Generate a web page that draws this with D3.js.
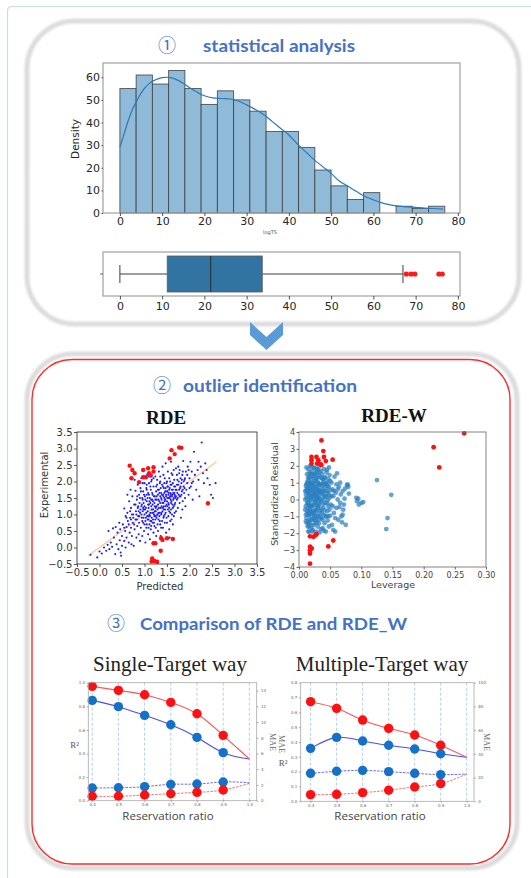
<!DOCTYPE html>
<html>
<head>
<meta charset="utf-8">
<script src="https://cdn.jsdelivr.net/npm/d3@7"></script>
<style>
  html, body { margin: 0; padding: 0; background: #fff; }
  svg { display: block; }
</style>
</head>
<body>
<svg id="fig" width="531" height="878"></svg>
<script>
// ---------- ① statistical analysis : histogram + KDE of logTS ----------
const histStart = 0;
const histBinWidth = 3.845;
const histCounts = [55, 61, 57, 63, 55, 48, 54, 50, 45, 36, 36, 29, 19, 12, 6, 9, 0, 3, 2, 3];
const kdeCurve = [
  [0, 29], [1, 35], [2, 41], [3, 46], [4, 49.5], [5, 53], [6, 55.5], [7, 57.3], [8, 58.5], [9, 59.3],
  [10, 59.8], [11, 60], [12, 59.8], [13, 59.3], [14, 58.4], [15, 57.3], [16, 56], [17, 54.8], [18, 53.7],
  [19, 52.6], [20, 51.8], [22, 50.9], [24, 50.6], [26, 50.4], [28, 49.5], [30, 47.8], [32, 45.8],
  [34, 43.5], [36, 40.5], [38, 37.5], [40, 34.5], [42, 30.5], [44, 27], [46, 23.5], [48, 20.5],
  [50, 17.5], [52, 14], [54, 11.8], [56, 9.5], [58, 7.3], [60, 5.8], [62, 4.5], [64, 3.6], [66, 3],
  [68, 2.7], [70, 2.5], [72, 2.2], [74, 2], [76.5, 1.7]
];
const logTSTicks = [0, 10, 20, 30, 40, 50, 60, 70, 80];
const densityTicks = [0, 10, 20, 30, 40, 50, 60];

// box plot of logTS
const boxQuartiles = [11.2, 21.5, 33.7];
const boxWhiskers = [0, 67];
const boxOutliers = [67.8, 68.9, 69.8, 75.5, 76.3];

// ---------- ② outlier identification ----------
const rdeTicks = [-0.5, 0, 0.5, 1, 1.5, 2, 2.5, 3, 3.5];
const rdeFitLine = [-0.25, 2.6];
const rdeInliers = [
  [-0.2,-0.22],[-0.05,-0.3],[0,-0.12],[0.05,-0.18],[0.1,0],[0.15,-0.1],[0.18,0.08],[0.22,-0.05],[0.25,0.15],
  [0.28,0.02],[0.3,0.58],[0.32,0.3],[0.35,-0.2],[0.38,0.1],[0.4,0.45],[0.42,-0.05],[0.45,0.22],[0.46,0.55],
  [0.48,-0.25],[0.5,0.35],[0.5,0.05],[0.47,-0.15],[0.44,0.75],[0.36,0.62],[0.2,0.5],
  [0.52,0.7],[0.55,1.18],[0.55,0.2],[0.57,0.5],[0.58,0.95],[0.6,0.62],[0.6,0.3],[0.62,1.05],[0.63,0.8],
  [0.65,0.15],[0.66,1.4],[0.67,0.45],[0.68,0.9],[0.7,1.2],[0.7,0.6],[0.72,0.35],[0.73,1.55],[0.74,0.75],
  [0.75,1],[0.76,0.05],[0.77,1.3],[0.78,0.55],[0.8,1.72],[0.8,0.85],[0.81,1.1],[0.82,0.3],[0.83,1.45],
  [0.84,0.65],[0.85,1.9],[0.85,1.2],[0.86,0.95],[0.87,0.4],[0.88,1.6],[0.88,0.75],[0.89,1.35],[0.9,1.05],
  [0.9,0.2],[0.62,1.6],[0.69,1.75],[0.78,2.05],[0.58,0],[0.71,0.1],
  [0.91,1.8],[0.92,0.6],[0.93,1.25],[0.93,2.1],[0.94,0.9],[0.95,1.5],[0.95,0.35],[0.96,1.1],[0.97,1.7],
  [0.97,0.75],[0.98,1.35],[0.99,0.5],[1,1.95],[1,1],[1.01,1.55],[1.02,0.8],[1.02,0.15],[1.03,1.2],
  [1.04,1.8],[1.04,0.6],[1.05,1.4],[1.06,0.95],[1.06,2.2],[1.07,1.1],[1.08,0.4],[1.08,1.65],[1.09,0.85],
  [1.1,1.3],[1.1,1.95],[1.11,0.7],[1.12,1.5],[1.12,0.25],[1.13,1.05],[1.14,1.75],[1.14,0.55],[1.15,1.25],
  [1.16,0.9],[1.16,2.05],[1.17,1.45],[1.18,0.75],[1.18,1.6],[1.19,1.15],[1.2,0.45],[1.2,1.85],[1.21,1],
  [1.22,1.35],[1.22,0.65],[1.23,1.55],[1.24,2.15],[1.24,0.85],[1.25,1.2],[1.26,1.7],[1.26,0.35],[1.27,1.45],
  [1.28,1],[1.28,1.9],[1.29,0.7],[1.3,1.3],[1.3,1.6],[1.3,0.5],[0.96,1.95],[1.05,1.6],[1.15,1.45],[1.25,1.1],
  [0.98,1.15],[1.08,1.3],[1.18,1.3],[1.27,1.25],[1.12,0.95],[1.22,0.95],
  [1.31,1.05],[1.32,1.75],[1.32,2.3],[1.33,1.4],[1.34,0.8],[1.35,1.55],[1.35,2],[1.36,1.2],[1.37,1.65],
  [1.37,0.6],[1.38,1.45],[1.39,1.9],[1.4,1.1],[1.4,2.45],[1.41,1.6],[1.42,0.9],[1.42,1.35],[1.43,1.8],
  [1.44,1.5],[1.45,2.1],[1.45,1],[1.46,1.7],[1.47,1.25],[1.48,0.45],[1.48,1.55],[1.49,1.95],[1.5,1.4],
  [1.5,0.75],[1.51,1.85],[1.52,1.15],[1.52,2.3],[1.53,1.6],[1.54,1.3],[1.55,1.75],[1.55,0.55],[1.56,1.5],
  [1.57,2],[1.57,1.05],[1.58,1.65],[1.59,1.35],[1.6,1.9],[1.6,0.85],[1.61,1.55],[1.62,2.2],[1.63,1.2],
  [1.63,1.75],[1.64,1.45],[1.65,0.95],[1.66,1.65],[1.66,2.05],[1.67,1.3],[1.68,1.85],[1.69,1.5],[1.7,1.1],
  [1.7,2.4],[1.34,1.95],[1.38,1.25],[1.44,1.65],[1.46,1.45],[1.53,1.5],[1.58,1.45],[1.62,1.6],[1.68,1.55],
  [1.36,0.35],[1.41,0.6],[1.56,0.3],[1.47,2.55],[1.59,2.6],[1.43,1.15],[1.51,1.7],
  [1.71,1.75],[1.72,1.45],[1.73,2.05],[1.74,1.2],[1.75,1.9],[1.76,1.6],[1.77,2.25],[1.78,1.35],[1.79,1.8],
  [1.8,2.1],[1.8,1.55],[1.81,0.9],[1.82,1.95],[1.83,1.7],[1.84,2.2],[1.85,1.4],[1.86,2.62],[1.87,1.85],
  [1.88,1.65],[1.89,2.05],[1.9,1.5],[1.92,2.3],[1.93,1.75],[1.95,1.95],[1.96,2.45],[1.98,1.6],[2,2.1],
  [2.02,2.6],[2.03,1.85],[2.05,2.3],[2.07,1.45],[2.08,2],[2.1,2.9],[1.75,2.45],[1.84,1.15],[1.91,1.25],
  [2.12,2.2],[2.15,1.75],[2.18,2.35],[2.2,2.05],[2.22,1.55],[2.25,2.45],[2.27,3.18],[2.3,2.25],[2.32,1.95],
  [2.35,2.55],[2.4,2.1],[2.45,1.9],[2.48,1.6],[2.52,1.5],[2.58,1.95],[2.38,2.35],[2.2,2.6],
  [1,1.25],[1.02,1.45],[1.04,1.05],[1.05,1.75],[1.07,1.5],[1.08,0.95],[1.09,1.2],[1.1,1.6],[1.11,1.4],
  [1.13,1.85],[1.13,1.35],[1.15,0.8],[1.16,1.15],[1.17,1.65],[1.19,1.4],[1.2,1.05],[1.21,1.55],[1.23,1.25],
  [1.24,1.45],[1.25,0.95],[1.26,1.85],[1.27,1.55],[1.29,1.15],[1.3,1.75],[1.31,1.45],[1.32,1.2],[1.33,1.65],
  [1.34,1.05],[1.35,1.35],[1.36,1.8],[1.37,1.5],[1.38,1.05],[1.39,1.6],[1.4,1.35],[1.41,1.85],[1.42,1.55],
  [1.43,1.25],[1.44,1.95],[1.45,1.4],[1.46,1.15],[1.47,1.8],[1.48,1.6],[1.49,1.3],[1.5,1.7],[1.51,1.5],
  [1.52,1.85],[1.53,1.35],[1.54,1.65],[1.55,1.2],[1.56,1.8],[1.57,1.55],[1.58,1.9],[1.59,1.6],[1.6,1.4],
  [1.61,1.75],[1.62,1.3],[1.63,1.95],[1.64,1.65],[1.65,1.5],[1.66,1.85],[1.67,1.6],[1.68,1.35],[1.69,1.75],
  [1.7,1.55],[1.72,1.9],[1.73,1.65],[1.74,1.5],[1.76,2],[1.77,1.75],[1.78,1.55],[1.8,1.85],[1.82,1.6],
  [1.83,2.05],[1.85,1.75],[1.87,2],[1.89,1.8],
  [0.8,1.3],[0.82,1],[0.84,1.55],[0.86,1.25],[0.88,0.95],[0.9,1.5],[0.91,1.15],[0.92,1.7],[0.94,1.3],
  [0.95,0.8],[0.96,1.45],[0.97,1.2],[0.98,0.9],[0.99,1.6],[1,0.7],[1.01,1.15],[1.03,0.9],[1.05,0.7],
  [1.07,0.85],[1.09,0.6],[1.11,1],[1.13,0.8],[1.15,0.65],[1.17,1.05],[1.19,0.85],[1.21,0.75],[1.23,1.1],
  [1.25,0.6],[1.27,0.9],[1.29,1],[1.31,0.85],[1.33,0.95],[1.35,0.7],[1.37,1],[1.39,0.8],[1.41,1.2],
  [1.43,0.95],[1.45,0.75],[1.47,1.05],[1.49,0.9],[1.51,1.25],[1.53,0.95],[1.55,1.1],[1.57,0.8],[1.59,1.15],
  [1.61,1],[1.63,0.7],[1.65,1.25],[1.67,1.05],[0.75,0.9],[0.7,0.85],[0.65,0.7],[0.6,0.9],[0.55,0.6],
  [0.68,1.1],[0.72,1],[0.77,0.7],[0.83,0.85],[0.87,1.1],[0.93,1],
  [1.15,2],[1.2,2.1],[1.28,2.05],[1.35,2.15],[1.42,2.2],[1.5,2],[1.55,2.1],[1.6,2.25],[1.65,2.35],
  [1.72,2.2],[1.78,2.35],[1.85,2.3],[1.9,2.1],[1.95,2.2],[2,1.8],[2.05,1.95],[1.98,2.35],[1.1,2.15],[1.05,1.9]
];
const rdeOutliers = [
  [0.67,2.48],[0.73,2.35],[0.78,2.25],[0.71,2.1],[0.88,1.98],[0.97,2.35],[0.97,2.13],[1.03,2.13],
  [1.08,2.4],[1.1,2.25],[1.2,2.43],[1.2,2.3],[1.14,2.18],[1.56,2.7],[1.6,2.95],[1.67,2.83],[1.77,3.03],
  [1.82,3.02],[2.41,1.34],[1.2,0.13],[1.24,0.13],[1.37,0.28],[1.4,0.23],[1.5,0.28],[1.63,0.26],
  [1.36,-0.1],[1.17,-0.33],[1.22,-0.41],[1.28,-0.43],[1.16,-0.42]
];

const leverageTicks = [0, 0.05, 0.1, 0.15, 0.2, 0.25, 0.3];
const residualTicks = [-4, -3, -2, -1, 0, 1, 2, 3, 4];
const rdewInliers = [
  [0.011,0.3],[0.011,-0.4],[0.012,0.9],[0.012,-1.1],[0.012,0.1],[0.013,1.5],[0.013,-0.7],[0.013,0.5],
  [0.014,-1.6],[0.014,1.1],[0.014,-0.2],[0.015,0.7],[0.015,-1.3],[0.015,1.8],[0.015,-0.5],[0.016,0.2],
  [0.016,1.3],[0.016,-0.9],[0.016,-1.9],[0.017,0.6],[0.017,-0.1],[0.017,1.6],[0.017,-1.4],[0.018,0.95],
  [0.018,-0.6],[0.018,0.35],[0.018,2],[0.019,-1],[0.019,1.2],[0.019,-0.3],[0.019,0],[0.02,-1.7],
  [0.02,0.8],[0.02,1.5],[0.02,-0.8],[0.013,-1.4],[0.014,0.4],[0.016,0.9],[0.017,-0.7],[0.018,-1.2],
  [0.015,0.05],[0.012,1.9],[0.019,0.55],[0.011,-0.9],[0.016,-0.35],
  [0.021,0.2],[0.021,-1.2],[0.021,1.7],[0.022,-0.4],[0.022,0.9],[0.022,-1.8],[0.023,0.5],[0.023,1.3],
  [0.023,-0.8],[0.024,0],[0.024,1.9],[0.024,-1.5],[0.025,0.7],[0.025,-0.2],[0.025,1.1],[0.026,-1],
  [0.026,0.35],[0.026,1.55],[0.027,-0.6],[0.027,0.8],[0.027,-1.9],[0.028,1.25],[0.028,-0.1],[0.028,0.5],
  [0.029,-1.3],[0.029,1.8],[0.029,0.15],[0.03,-0.5],[0.03,1],[0.03,-1.6],[0.031,0.6],[0.031,1.45],
  [0.031,-0.9],[0.032,0.1],[0.032,-0.3],[0.032,1.95],[0.033,0.85],[0.033,-1.15],[0.033,-1.95],[0.034,0.4],
  [0.034,1.3],[0.034,-0.7],[0.035,-0.15],[0.035,1.7],[0.023,0.25],[0.025,-0.65],[0.027,0.3],[0.029,-0.35],
  [0.031,0.2],[0.026,-1.4],[0.028,1.6],[0.033,0.55],[0.03,0.4],[0.022,0.6],[0.024,-0.9],
  [0.036,0.9],[0.036,-1.1],[0.037,0.3],[0.037,1.5],[0.038,-0.5],[0.038,-1.7],[0.039,1.1],[0.039,0],
  [0.04,-0.9],[0.04,1.8],[0.041,0.5],[0.041,-1.4],[0.042,1.3],[0.042,-0.2],[0.043,0.7],[0.043,-1.9],
  [0.044,0.15],[0.044,1.6],[0.045,-0.7],[0.045,0.95],[0.046,-1.25],[0.046,0.4],[0.047,1.2],[0.047,-0.4],
  [0.048,-1.6],[0.048,0.75],[0.049,0.1],[0.049,1.45],[0.05,-0.95],[0.05,0.55],[0.038,0.6],[0.042,0.9],
  [0.044,-1],[0.046,-0.05],[0.048,1.9],[0.04,0.25],
  [0.051,-0.3],[0.052,1],[0.053,-1.5],[0.054,0.6],[0.055,0.2],[0.056,-0.8],[0.057,1.35],[0.058,-1.9],
  [0.059,0.4],[0.06,-0.5],[0.061,1.55],[0.062,0],[0.063,-1.2],[0.064,0.75],[0.066,-0.2],[0.067,0.3],
  [0.068,-1],[0.07,0.5],[0.071,-0.6],[0.073,0.05],[0.074,0.65],[0.075,-1.5],[0.077,0.85],[0.078,0.9],
  [0.079,0.75],[0.08,0.35],[0.055,-1.8],[0.06,0.9],[0.065,-0.45],[0.072,-0.3],[0.069,-1.35],
  [0.093,-0.1],[0.095,0.05],[0.096,-0.3],[0.1,-0.2],[0.103,-0.15],[0.125,1.15],[0.148,0.28],
  [0.142,-1.1],[0.14,-1.75],[0.092,0.1],
  [0.012,0.6],[0.013,-0.2],[0.013,1],[0.014,-0.9],[0.014,0.7],[0.015,-0.8],[0.015,1.3],[0.016,0.45],
  [0.016,-1.6],[0.017,1],[0.017,0.25],[0.018,-0.4],[0.018,1.5],[0.019,-1.5],[0.019,0.8],[0.02,0.1],
  [0.02,-0.4],[0.021,1],[0.021,-0.7],[0.022,0.2],[0.022,1.4],[0.023,-1.2],[0.023,0.9],[0.024,0.4],
  [0.024,-0.3],[0.025,1.5],[0.025,-1.1],[0.026,0.6],[0.026,-0.1],[0.027,1.1],[0.027,-1.2],[0.028,0.1],
  [0.028,-0.7],[0.029,0.75],[0.029,1.3],[0.03,-1],[0.03,0.05],[0.031,-0.4],[0.031,1],[0.032,0.5],
  [0.032,-1.4],[0.033,1.6],[0.033,-0.1],[0.034,0.9],[0.034,-1],[0.035,0.45],[0.035,-0.6],[0.036,1.3],
  [0.036,0],[0.037,-0.8],[0.037,0.8],[0.038,-1.2],[0.038,1.2],[0.039,0.5],[0.039,-0.3],[0.04,0.9],
  [0.041,-0.6],[0.041,1.3],[0.042,0.2],[0.043,-1],[0.043,1],[0.044,0.5],[0.045,-0.2],[0.046,0.8],
  [0.047,-1],[0.048,0.3],[0.049,-0.6],[0.05,1.1],[0.052,0.2],[0.054,-0.4],[0.056,0.5],[0.058,-1.1],
  [0.062,0.6],[0.066,1],[0.07,-0.9],[0.021,-1.9],[0.025,1.85],[0.03,1.75],[0.035,-1.75],[0.04,-1.85],
  [0.045,1.75],[0.015,-1.9],[0.02,1.95],[0.011,0.8],[0.011,-1.3],[0.01,0],[0.01,-0.6],[0.01,0.5]
];
const rdewOutliers = [
  [0.265,3.92],[0.216,3.1],[0.225,1.9],[0.036,3.5],[0.039,2.87],[0.04,2.52],[0.054,2.36],[0.043,2.28],
  [0.02,2.52],[0.02,2.33],[0.02,2.13],[0.028,2.52],[0.031,2.33],[0.029,2.13],[0.034,2.1],[0.036,2.05],
  [0.0177,-2.18],[0.023,-2.21],[0.026,-2.13],[0.028,-2.06],[0.0177,-2.8],[0.0177,-3],[0.0177,-3.2],
  [0.0204,-2.9],[0.0177,-3.8],[0.047,-2.78],[0.055,-2.43]
];

// ---------- ③ comparison of RDE and RDE_W ----------
const reservationRatios = [0.4, 0.5, 0.6, 0.7, 0.8, 0.9, 1.0];
const singleR2Red = [0.969, 0.935, 0.898, 0.833, 0.737, 0.554, 0.353];
const singleR2Blue = [0.850, 0.797, 0.723, 0.644, 0.537, 0.407, 0.353];
const singleMaeBlue = [1.61, 1.65, 1.78, 2.08, 2.12, 2.38, 2.29];
const singleMaeRed = [0.56, 0.56, 0.72, 0.89, 1.06, 1.36, 2.2];
const multiR2Red = [0.672, 0.627, 0.548, 0.492, 0.447, 0.378, 0.297];
const multiR2Blue = [0.357, 0.431, 0.407, 0.378, 0.353, 0.321, 0.297];
const multiMaeBlue = [23.6, 25.3, 26.1, 25.0, 23.6, 22.5, 23.0];
const multiMaeRed = [5.6, 5.9, 7.3, 9.3, 12.1, 14.9, 23.0];
const singleR2Ticks = [0, 0.2, 0.4, 0.6, 0.8, 1.0];
const singleMaeTicks = [0, 2, 4, 6, 8, 10, 12, 14];
const multiR2Ticks = [0, 0.1, 0.2, 0.3, 0.4, 0.5, 0.6, 0.7, 0.8];
const multiMaeTicks = [0, 20, 40, 60, 80, 100];

// ======================================================================
const svg = d3.select('#fig');
const defs = svg.append('defs');
defs.append('filter').attr('id', 'soft')
  .attr('x', '-5%').attr('y', '-5%').attr('width', '110%').attr('height', '110%')
  .append('feGaussianBlur').attr('stdDeviation', 1.3);

const SANS = "'DejaVu Sans', sans-serif";
const SERIF = "'Liberation Serif', 'Times New Roman', serif";
const TITLE = "Lato, 'Open Sans', sans-serif";
const BLUE_T = '#4472c4';

function styleAxis(g, size, color, font, tickW) {
  g.attr('font-size', null).attr('font-family', null);
  g.select('path.domain').remove();
  g.selectAll('.tick line').attr('stroke', color).attr('stroke-width', tickW || 0.8);
  g.selectAll('.tick text').attr('font-size', size).attr('fill', color).attr('font-family', font);
}

// page frame
svg.append('path')
  .attr('d', 'M7.5,878 V11 Q7.5,6.5 12,6.5 H531')
  .attr('fill', 'none').attr('stroke', '#c6ddec').attr('stroke-width', 1.2);

// section cards
svg.append('rect').attr('x', 27).attr('y', 21).attr('width', 492).attr('height', 303).attr('rx', 48)
  .attr('fill', '#fff').attr('stroke', '#dcdcdc').attr('stroke-width', 5).attr('filter', 'url(#soft)');
svg.append('rect').attr('x', 27).attr('y', 354).attr('width', 490).attr('height', 514).attr('rx', 46)
  .attr('fill', '#fff').attr('stroke', '#dcdcdc').attr('stroke-width', 5).attr('filter', 'url(#soft)');
svg.append('rect').attr('x', 32).attr('y', 359.5).attr('width', 478).attr('height', 504.5).attr('rx', 40)
  .attr('fill', 'none').attr('stroke', '#ff2b2b').attr('stroke-width', 1.4);

// chevron between sections
svg.append('polygon')
  .attr('points', '250,322 266.5,337 283,322 283,335 266.5,350 250,335')
  .attr('fill', '#5b9bd5');

// section headings
function heading(num, numX, text, textX, textW, baseY) {
  svg.append('text').attr('x', numX).attr('y', baseY).attr('text-anchor', 'middle')
    .attr('font-family', "'Noto Sans CJK SC', 'DejaVu Sans', sans-serif").attr('font-size', 18)
    .attr('fill', BLUE_T).text(num);
  svg.append('text').attr('x', textX).attr('y', baseY)
    .attr('font-family', TITLE).attr('font-weight', 'bold').attr('font-size', 17)
    .attr('fill', BLUE_T).attr('textLength', textW).attr('lengthAdjust', 'spacingAndGlyphs').text(text);
}
heading('①', 167, 'statistical analysis', 203, 152, 52);
heading('②', 162, 'outlier identification', 183, 174, 392);
heading('③', 116, 'Comparison of RDE and RDE_W', 140, 267, 630);

// ---------------- histogram ----------------
const hx = d3.scaleLinear().domain([-4, 80.5]).range([103, 460]);
const hy = d3.scaleLinear().domain([0, 66.3]).range([213, 63]);
const hist = svg.append('g');
hist.selectAll('rect.bar').data(histCounts.map((c, i) => ({ x0: histStart + i * histBinWidth, c })).filter(d => d.c > 0))
  .join('rect').attr('class', 'bar')
  .attr('x', d => hx(d.x0)).attr('width', d => hx(d.x0 + histBinWidth) - hx(d.x0))
  .attr('y', d => hy(d.c)).attr('height', d => hy(0) - hy(d.c))
  .attr('fill', '#8fbbd9').attr('stroke', '#3a3a3a').attr('stroke-opacity', 0.85).attr('stroke-width', 0.9);
hist.append('path').datum(kdeCurve)
  .attr('d', d3.line().x(d => hx(d[0])).y(d => hy(d[1])).curve(d3.curveCatmullRom))
  .attr('fill', 'none').attr('stroke', '#2a7ab8').attr('stroke-width', 1.2);
hist.append('rect').attr('x', 103).attr('y', 63).attr('width', 357).attr('height', 150)
  .attr('fill', 'none').attr('stroke', '#a0a0a0').attr('stroke-width', 1.2);
styleAxis(hist.append('g').attr('transform', 'translate(0,213)')
  .call(d3.axisBottom(hx).tickValues(logTSTicks).tickSize(3).tickPadding(1.5)), 11, '#262626', SANS);
styleAxis(hist.append('g').attr('transform', 'translate(103,0)')
  .call(d3.axisLeft(hy).tickValues(densityTicks).tickSize(1.5).tickPadding(1.5)), 11, '#262626', SANS);
hist.append('text').attr('transform', 'translate(79,139) rotate(-90)').attr('text-anchor', 'middle')
  .attr('font-family', SANS).attr('font-size', 10.5).attr('fill', '#262626').text('Density');
hist.append('text').attr('x', 270).attr('y', 233.5).attr('text-anchor', 'middle')
  .attr('font-family', SANS).attr('font-size', 5).attr('fill', '#555').text('logTS');

// ---------------- box plot ----------------
const boxG = svg.append('g');
const byBand = d3.scaleBand().domain(['logTS']).range([252, 296]);
const bc = byBand('logTS') + byBand.bandwidth() / 2;
boxG.append('rect').attr('x', 103).attr('y', 252).attr('width', 357).attr('height', 44)
  .attr('fill', 'none').attr('stroke', '#a0a0a0').attr('stroke-width', 1.2);
boxG.append('line').attr('x1', hx(boxWhiskers[0])).attr('x2', hx(boxQuartiles[0])).attr('y1', bc).attr('y2', bc)
  .attr('stroke', '#3d3d3d').attr('stroke-width', 1);
boxG.append('line').attr('x1', hx(boxQuartiles[2])).attr('x2', hx(boxWhiskers[1])).attr('y1', bc).attr('y2', bc)
  .attr('stroke', '#3d3d3d').attr('stroke-width', 1);
boxWhiskers.forEach(w => boxG.append('line').attr('x1', hx(w)).attr('x2', hx(w)).attr('y1', bc - 9).attr('y2', bc + 9)
  .attr('stroke', '#3d3d3d').attr('stroke-width', 1));
boxG.append('rect').attr('x', hx(boxQuartiles[0])).attr('width', hx(boxQuartiles[2]) - hx(boxQuartiles[0]))
  .attr('y', bc - 18).attr('height', 36).attr('fill', '#3274a1').attr('stroke', '#5a5a5a').attr('stroke-width', 0.8);
boxG.append('line').attr('x1', hx(boxQuartiles[1])).attr('x2', hx(boxQuartiles[1])).attr('y1', bc - 18).attr('y2', bc + 18)
  .attr('stroke', '#2c2c2c').attr('stroke-width', 1);
boxG.selectAll('circle').data(boxOutliers).join('circle')
  .attr('cx', d => hx(d)).attr('cy', bc).attr('r', 2.6).attr('fill', '#ff1a1a');
styleAxis(boxG.append('g').attr('transform', 'translate(0,296)')
  .call(d3.axisBottom(hx).tickValues(logTSTicks).tickSize(3.5).tickPadding(2.5)), 11, '#262626', SANS);
styleAxis(boxG.append('g').attr('transform', 'translate(103,0)')
  .call(d3.axisLeft(byBand).tickSize(3).tickFormat(() => '')), 11, '#444', SANS);

// ---------------- RDE scatter ----------------
const rx = d3.scaleLinear().domain([-0.5, 3.5]).range([77, 257]);
const ry = d3.scaleLinear().domain([-0.5, 3.5]).range([564, 432]);
const rde = svg.append('g');
rde.append('text').attr('x', 166).attr('y', 424).attr('text-anchor', 'middle')
  .attr('font-family', SERIF).attr('font-weight', 'bold').attr('font-size', 19).attr('fill', '#111').text('RDE');
rde.append('line').attr('x1', rx(rdeFitLine[0])).attr('y1', ry(rdeFitLine[0]))
  .attr('x2', rx(rdeFitLine[1])).attr('y2', ry(rdeFitLine[1]))
  .attr('stroke', '#ffc98a').attr('stroke-width', 1.3);
rde.selectAll('circle.in').data(rdeInliers).join('circle').attr('class', 'in')
  .attr('cx', d => rx(d[0])).attr('cy', d => ry(d[1])).attr('r', 1.05).attr('fill', '#1a1aff');
rde.selectAll('circle.out').data(rdeOutliers).join('circle').attr('class', 'out')
  .attr('cx', d => rx(d[0])).attr('cy', d => ry(d[1])).attr('r', 2.2).attr('fill', '#ff1010');
rde.append('rect').attr('x', 77).attr('y', 432).attr('width', 180).attr('height', 132)
  .attr('fill', 'none').attr('stroke', '#222').attr('stroke-width', 0.8);
styleAxis(rde.append('g').attr('transform', 'translate(0,564)')
  .call(d3.axisBottom(rx).tickValues(rdeTicks).tickSize(3).tickPadding(1.5).tickFormat(d3.format('.1f'))), 10, '#333', SANS);
styleAxis(rde.append('g').attr('transform', 'translate(77,0)')
  .call(d3.axisLeft(ry).tickValues(rdeTicks).tickSize(3).tickPadding(1.5).tickFormat(d3.format('.1f'))), 10, '#333', SANS);
rde.append('text').attr('transform', 'translate(48,485) rotate(-90)').attr('text-anchor', 'middle')
  .attr('font-family', SANS).attr('font-size', 10).attr('fill', '#333').text('Experimental');
rde.append('text').attr('x', 160).attr('y', 590).attr('text-anchor', 'middle')
  .attr('font-family', SANS).attr('font-size', 10).attr('fill', '#333').text('Predicted');

// ---------------- RDE-W leverage plot ----------------
const wx = d3.scaleLinear().domain([0, 0.3]).range([299, 486]);
const wy = d3.scaleLinear().domain([-4, 4]).range([567, 432]);
const rdew = svg.append('g');
rdew.append('text').attr('x', 394).attr('y', 422).attr('text-anchor', 'middle')
  .attr('font-family', SERIF).attr('font-weight', 'bold').attr('font-size', 19).attr('fill', '#111').text('RDE-W');
rdew.selectAll('circle.in').data(rdewInliers).join('circle').attr('class', 'in')
  .attr('cx', d => wx(d[0])).attr('cy', d => wy(d[1])).attr('r', 2.4)
  .attr('fill', '#2b7fbf').attr('fill-opacity', 0.72);
rdew.selectAll('circle.out').data(rdewOutliers).join('circle').attr('class', 'out')
  .attr('cx', d => wx(d[0])).attr('cy', d => wy(d[1])).attr('r', 2.4).attr('fill', '#ff1010');
rdew.append('rect').attr('x', 299).attr('y', 432).attr('width', 187).attr('height', 135)
  .attr('fill', 'none').attr('stroke', '#777').attr('stroke-width', 0.9);
styleAxis(rdew.append('g').attr('transform', 'translate(0,567)')
  .call(d3.axisBottom(wx).tickValues(leverageTicks).tickSize(2.5).tickPadding(3).tickFormat(d3.format('.2f'))), 8, '#444', SANS);
styleAxis(rdew.append('g').attr('transform', 'translate(299,0)')
  .call(d3.axisLeft(wy).tickValues(residualTicks).tickSize(2.5).tickPadding(1.5).tickFormat(d3.format('d'))), 8, '#444', SANS);
rdew.append('text').attr('transform', 'translate(278,494) rotate(-90)').attr('text-anchor', 'middle')
  .attr('font-family', SANS).attr('font-size', 9.3).attr('fill', '#444').text('Standardized Residual');
rdew.append('text').attr('x', 393).attr('y', 588).attr('text-anchor', 'middle')
  .attr('font-family', SANS).attr('font-size', 9.5).attr('fill', '#444').text('Leverage');

// ---------------- reservation ratio panels ----------------
function ratioPanel(o) {
  const g = svg.append('g');
  const x = d3.scaleLinear().domain(o.xDomain).range([o.left, o.right]);
  const yL = d3.scaleLinear().domain([0, o.r2Max]).range([o.bottom, o.top]);
  const yR = d3.scaleLinear().domain([0, o.maeMax]).range([o.bottom, o.top]);
  g.append('text').attr('x', o.titleX).attr('y', 671).attr('text-anchor', 'middle')
    .attr('font-family', SERIF).attr('font-size', 21).attr('fill', '#222').text(o.title);
  // dashed guides at each ratio
  g.selectAll('line.guide').data(reservationRatios).join('line').attr('class', 'guide')
    .attr('x1', d => x(d)).attr('x2', d => x(d)).attr('y1', o.top).attr('y2', o.bottom)
    .attr('stroke', '#9cc4ea').attr('stroke-width', 0.8).attr('stroke-dasharray', '3,2');
  const marked = reservationRatios.slice(0, 6);
  const series = [
    { v: o.r2Blue, s: yL, col: '#4b4bff', mk: '#1570c8', dash: null, w: 1.1 },
    { v: o.r2Red, s: yL, col: '#ff5555', mk: '#ff1010', dash: null, w: 1.1 },
    { v: o.maeBlue, s: yR, col: '#5a5aff', mk: '#1570c8', dash: '2.5,1.2', w: 0.9 },
    { v: o.maeRed, s: yR, col: '#ff6060', mk: '#ff1010', dash: '2.5,1.2', w: 0.9 }
  ];
  series.forEach(sr => {
    const pts = reservationRatios.map((r, i) => [r, sr.v[i]]);
    g.append('path').datum(pts)
      .attr('d', d3.line().x(d => x(d[0])).y(d => sr.s(d[1])).curve(d3.curveNatural))
      .attr('fill', 'none').attr('stroke', sr.col).attr('stroke-width', sr.w)
      .attr('stroke-dasharray', sr.dash);
    g.selectAll(null).data(pts.slice(0, marked.length)).join('circle')
      .attr('cx', d => x(d[0])).attr('cy', d => sr.s(d[1])).attr('r', 4.7).attr('fill', sr.mk);
  });
  g.append('rect').attr('x', o.left).attr('y', o.top).attr('width', o.right - o.left).attr('height', o.bottom - o.top)
    .attr('fill', 'none').attr('stroke', '#a8a8a8').attr('stroke-width', 0.8);
  styleAxis(g.append('g').attr('transform', `translate(0,${o.bottom})`)
    .call(d3.axisBottom(x).tickValues(reservationRatios).tickSize(1.5).tickPadding(1).tickFormat(d3.format('.1f'))), 4, '#666', SANS, 0.5);
  styleAxis(g.append('g').attr('transform', `translate(${o.left},0)`)
    .call(d3.axisLeft(yL).tickValues(o.r2Ticks).tickSize(1.8).tickPadding(1.5).tickFormat(d3.format('.1f'))), 4, '#666', SANS, 0.5);
  styleAxis(g.append('g').attr('transform', `translate(${o.right},0)`)
    .call(d3.axisRight(yR).tickValues(o.maeTicks).tickSize(1.8).tickPadding(2.5).tickFormat(d3.format('d'))), 4, '#666', SANS, 0.5);
  g.append('text').attr('x', o.r2LabelX).attr('y', o.r2LabelY).attr('text-anchor', 'middle')
    .attr('font-family', SERIF).attr('font-size', 9).attr('fill', '#555').text('R²');
  g.append('text').attr('transform', `translate(${o.maeLabelX},742) rotate(90)`).attr('text-anchor', 'middle')
    .attr('font-family', SERIF).attr('font-size', 8).attr('fill', '#666').text('MAE');
  g.append('text').attr('x', o.titleX - 2).attr('y', 820).attr('text-anchor', 'middle')
    .attr('font-family', "'Open Sans', sans-serif").attr('font-size', 11.5).attr('fill', '#444').text('Reservation ratio');
  return g;
}

ratioPanel({
  title: 'Single-Target way', titleX: 170,
  xDomain: [0.385, 1.028], left: 88.3, right: 256.7, top: 682.7, bottom: 800.7,
  r2Max: 1, maeMax: 15, r2Ticks: singleR2Ticks, maeTicks: singleMaeTicks,
  r2Red: singleR2Red, r2Blue: singleR2Blue, maeRed: singleMaeRed, maeBlue: singleMaeBlue,
  r2LabelX: 74.5, r2LabelY: 748, maeLabelX: 270
});
ratioPanel({
  title: 'Multiple-Target way', titleX: 382,
  xDomain: [0.362, 1.028], left: 300.7, right: 474, top: 682.7, bottom: 801.3,
  r2Max: 0.8, maeMax: 100, r2Ticks: multiR2Ticks, maeTicks: multiMaeTicks,
  r2Red: multiR2Red, r2Blue: multiR2Blue, maeRed: multiMaeRed, maeBlue: multiMaeBlue,
  r2LabelX: 283, r2LabelY: 766, maeLabelX: 484
});
// stray axis caption left beside the second panel
svg.append('text').attr('transform', 'translate(279,744) rotate(90)').attr('text-anchor', 'middle')
  .attr('font-family', SERIF).attr('font-size', 8).attr('fill', '#666').text('MAE');
</script>
</body>
</html>
